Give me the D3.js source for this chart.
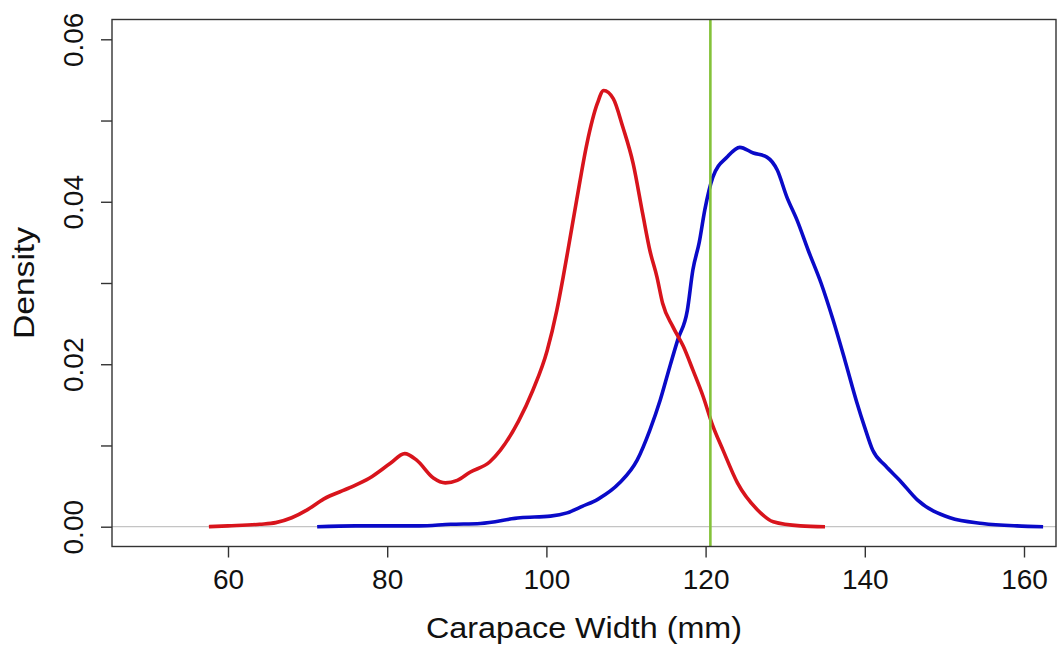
<!DOCTYPE html>
<html>
<head>
<meta charset="utf-8">
<script src="https://cdn.jsdelivr.net/npm/d3@7"></script>
<style>
  body { margin: 0; background: #fff; }
  svg { display: block; font-family: "Liberation Sans", Arial, sans-serif; }
</style>
</head>
<body>
<svg id="chart" width="1057" height="650"></svg>
<script>
// red density curve (carapace width mm, density)
const redX = [57.6, 60, 64, 66, 68, 70, 72, 75.3, 77.8, 80.4, 82.2, 83.7, 85.8, 87.3, 88.8, 90.4, 92.9, 94.2, 96.5, 98.3, 100.1, 101.3, 102.1, 102.7, 103.8, 105.1, 106.4, 107.2, 108.4, 109.6, 110.9, 112.1, 113, 113.9, 114.6, 115.9, 117.2, 118.4, 119.7, 120.8, 122.2, 124, 126.5, 128.5, 131.9, 135];
const redY = [0, 0.0001, 0.0003, 0.0005, 0.0011, 0.0021, 0.0034, 0.0048, 0.006, 0.0078, 0.009, 0.0082, 0.006, 0.0054, 0.0057, 0.0067, 0.008, 0.0094, 0.013, 0.0168, 0.0217, 0.0266, 0.0307, 0.034, 0.0402, 0.0472, 0.0521, 0.0537, 0.0527, 0.0492, 0.0447, 0.0385, 0.034, 0.0307, 0.0275, 0.0246, 0.0222, 0.0193, 0.016, 0.0127, 0.0094, 0.0054, 0.0021, 0.0006, 0.0001, 0];

// blue density curve
const blueX = [71.2, 76, 80, 84, 88, 91.7, 96.7, 100.5, 102.6, 104.5, 106.5, 109.2, 111.4, 113, 114.3, 115.5, 116.5, 117.7, 118.4, 119.2, 119.9, 120.9, 122.7, 124.3, 126, 127.7, 129, 130.2, 131.5, 132.9, 134.5, 136, 137.5, 139, 140, 141, 142.6, 144.4, 146.6, 150.7, 154.8, 159.1, 162.4];
const blueY = [0, 0.0001, 0.0001, 0.0001, 0.0003, 0.0004, 0.0011, 0.0013, 0.0017, 0.0025, 0.0034, 0.0054, 0.0082, 0.0119, 0.0156, 0.0197, 0.023, 0.0266, 0.0316, 0.035, 0.039, 0.043, 0.0455, 0.0467, 0.046, 0.0455, 0.0439, 0.0406, 0.0377, 0.034, 0.03, 0.0255, 0.0205, 0.0153, 0.0122, 0.0094, 0.0075, 0.0057, 0.0033, 0.0011, 0.0004, 0.0001, 0];

const cutoff = 120.6;
const xTicks = [60, 80, 100, 120, 140, 160];
const yTicks = [0, 0.01, 0.02, 0.03, 0.04, 0.05, 0.06];
const yLabels = {0: "0.00", 0.02: "0.02", 0.04: "0.04", 0.06: "0.06"};

const plot = { left: 112, right: 1056, top: 19.5, bottom: 546.5 };

const svg = d3.select("#chart");

const xScale = d3.scaleLinear().domain([60, 160]).range([228, 1024]);
const yScale = d3.scaleLinear().domain([0, 0.06]).range([526.7, 39.3]);

// zero reference line
svg.append("line")
  .attr("x1", plot.left).attr("x2", plot.right)
  .attr("y1", yScale(0)).attr("y2", yScale(0))
  .attr("stroke", "#c4c4c4").attr("stroke-width", 1.2);

const line = d3.line()
  .x(d => xScale(d[0]))
  .y(d => yScale(d[1]))
  .curve(d3.curveMonotoneX);

svg.append("path")
  .datum(blueX.map((v, i) => [v, blueY[i]]))
  .attr("fill", "none")
  .attr("stroke", "#0a0ac8")
  .attr("stroke-width", 3.6)
  .attr("stroke-linejoin", "round")
  .attr("d", line);

svg.append("path")
  .datum(redX.map((v, i) => [v, redY[i]]))
  .attr("fill", "none")
  .attr("stroke", "#d8141c")
  .attr("stroke-width", 3.6)
  .attr("stroke-linejoin", "round")
  .attr("d", line);

// vertical cutoff line
svg.append("line")
  .attr("x1", xScale(cutoff)).attr("x2", xScale(cutoff))
  .attr("y1", plot.top).attr("y2", plot.bottom)
  .attr("stroke", "#84c23a").attr("stroke-width", 2.6);

// box
svg.append("rect")
  .attr("x", plot.left).attr("y", plot.top)
  .attr("width", plot.right - plot.left).attr("height", plot.bottom - plot.top)
  .attr("fill", "none").attr("stroke", "#333").attr("stroke-width", 1.4);

// x axis
const xAxis = d3.axisBottom(xScale).tickValues(xTicks).tickSize(11).tickPadding(12);
const gx = svg.append("g")
  .attr("transform", `translate(0,${plot.bottom})`)
  .call(xAxis);
gx.select(".domain").remove();
gx.selectAll(".tick line").attr("stroke", "#333").attr("stroke-width", 1.4);
gx.selectAll(".tick text").attr("fill", "#111").style("font-size", "28px");

// y axis, labels rotated like R
const yAxis = d3.axisLeft(yScale).tickValues(yTicks).tickSize(11)
  .tickFormat(d => yLabels[d] || "");
const gy = svg.append("g")
  .attr("transform", `translate(${plot.left},0)`)
  .call(yAxis);
gy.select(".domain").remove();
gy.selectAll(".tick line").attr("stroke", "#333").attr("stroke-width", 1.4);
gy.selectAll(".tick text")
  .attr("x", 0).attr("dy", 0)
  .attr("fill", "#111")
  .attr("text-anchor", "middle")
  .attr("transform", "translate(-29,0) rotate(-90)")
  .style("font-size", "28px");

// axis titles
svg.append("text")
  .attr("x", (plot.left + plot.right) / 2)
  .attr("y", 638)
  .attr("text-anchor", "middle")
  .attr("fill", "#111")
  .attr("textLength", 316)
  .attr("lengthAdjust", "spacingAndGlyphs")
  .style("font-size", "30px")
  .text("Carapace Width (mm)");

svg.append("text")
  .attr("transform", `translate(34,${(plot.top + plot.bottom) / 2}) rotate(-90)`)
  .attr("text-anchor", "middle")
  .attr("fill", "#111")
  .attr("textLength", 112)
  .attr("lengthAdjust", "spacingAndGlyphs")
  .style("font-size", "30px")
  .text("Density");
</script>
</body>
</html>
